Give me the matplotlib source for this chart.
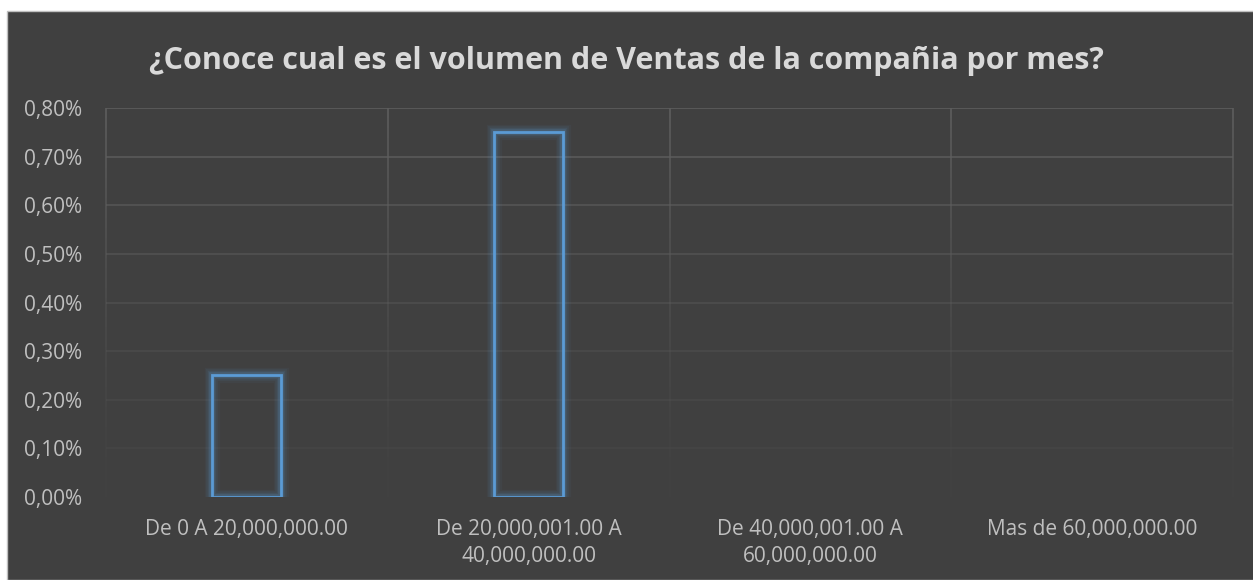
import matplotlib.pyplot as plt
from matplotlib.patches import Rectangle
import numpy as np

# datos
categorias = ['De 0 A 20,000,000.00', 'De 20,000,001.00 A\n40,000,000.00',
              'De 40,000,001.00 A\n60,000,000.00', 'Mas de 60,000,000.00']
valores = [0.0025, 0.0075, 0.0, 0.0]
yticks = [0.0, 0.001, 0.002, 0.003, 0.004, 0.005, 0.006, 0.007, 0.008]
titulo = '¿Conoce cual es el volumen de Ventas de la compañia por mes?'

fondo = '#404040'
azul = '#5b9bd5'
plt.rcParams['font.family'] = ['Open Sans', 'DejaVu Sans']

fig = plt.figure(figsize=(12.53, 5.80), dpi=100, facecolor='white')
# marco oscuro del grafico
fig.patches.append(Rectangle((7/1253, 0), 1, 1 - 11/580, transform=fig.transFigure,
                             facecolor=fondo, edgecolor='#bfbfbf', linewidth=1, zorder=-10))

ax = fig.add_axes([106/1253, 1 - 497/580, (1233-106)/1253, (497-108)/580])
ax.set_facecolor(fondo)
ax.set_xlim(-0.5, len(categorias) - 0.5)
ax.set_ylim(0, 0.008)

# lineas de cuadricula que se desvanecen hacia abajo
for v in yticks[1:]:
    a = 0.15 + 0.85 * (v / 0.008) ** 1.5
    ax.axhline(v, color='#5e5e5e', lw=1.2, alpha=a, zorder=0)
segs = np.linspace(0, 0.008, 40)
for xv in np.arange(-0.5, len(categorias), 1.0):
    for i in range(len(segs) - 1):
        m = (segs[i] + segs[i+1]) / 2
        a = 0.05 + 0.95 * (m / 0.008) ** 1.5
        ax.plot([xv, xv], [segs[i], segs[i+1]], color='#5e5e5e', lw=1.2,
                alpha=a, zorder=0, solid_capstyle='butt', clip_on=False)

# barras con brillo (solo las que tienen valor)
ancho = 0.245
x = np.arange(len(categorias))
xs = [xi for xi, v in zip(x, valores) if v > 0]
vs = [v for v in valores if v > 0]
for lw, al in [(11, 0.05), (8.5, 0.07), (6, 0.1), (4, 0.18)]:
    ax.bar(xs, vs, width=ancho, fill=False, edgecolor=azul, linewidth=lw,
           alpha=al, zorder=2)
ax.bar(xs, vs, width=ancho, fill=False, edgecolor=azul, linewidth=2, zorder=3)

ax.set_xticks(x)
ax.set_xticklabels(categorias, color='#bfbfbf', fontsize=15, linespacing=1.35)
ax.set_yticks(yticks)
ax.set_yticklabels([f'{v*100:.2f}%'.replace('.', ',') for v in yticks],
                   color='#bfbfbf', fontsize=15)
ax.tick_params(axis='both', length=0)
ax.tick_params(axis='x', pad=16)
ax.tick_params(axis='y', pad=17)
for s in ax.spines.values():
    s.set_visible(False)

fig.text(0.5, 1 - 61/580, titulo, ha='center', va='center', color='#d9d9d9',
         fontsize=22, fontweight='bold')

fig.savefig('out.png', dpi=100, facecolor='white')
